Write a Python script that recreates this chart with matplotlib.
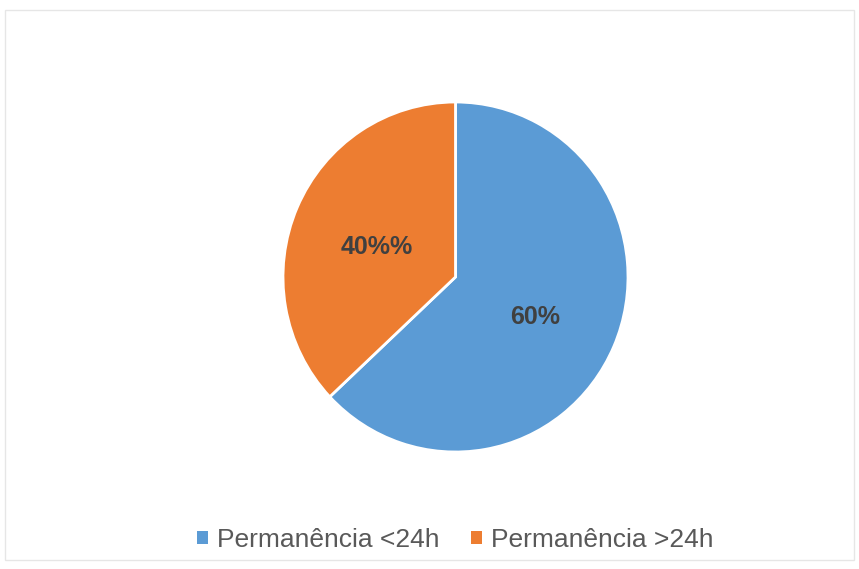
import matplotlib.pyplot as plt
from matplotlib.patches import Patch, Rectangle

# Dados do gráfico (fatias medidas na imagem; rótulos como aparecem)
categorias = ['Permanência <24h', 'Permanência >24h']
valores = [63, 37]
rotulos = ['60%', '40%%']
cores = ['#5B9BD5', '#ED7D31']

plt.rcParams['font.family'] = ['Liberation Sans', 'DejaVu Sans']

fig = plt.figure(figsize=(8.59, 5.69), dpi=100)

# moldura clara em volta
fig.patches.append(Rectangle((0.006, 0.016), 0.988, 0.966, transform=fig.transFigure,
                             fill=False, edgecolor='#e6e6e6', linewidth=1))

# a imagem original é um pouco esticada na vertical
ax = fig.add_axes([283 / 859, (569 - 452) / 569, 345 / 859, 350 / 569])

it = iter(rotulos)
wedges, textos, pcts = ax.pie(valores, colors=cores, startangle=90, counterclock=False,
                              autopct=lambda p: next(it), pctdistance=0.5,
                              wedgeprops=dict(edgecolor='white', linewidth=2),
                              textprops=dict(color='#404040', fontsize=18, fontweight='bold'))
# descer um pouco os rótulos
for t in pcts:
    x, y = t.get_position()
    t.set_position((x, y - 0.03))

ax.set_aspect('auto')
ax.set_xlim(-1, 1)
ax.set_ylim(-1, 1)

# Legenda
handles = [Patch(facecolor=c, edgecolor='none') for c in cores]
fig.legend(handles, categorias, loc='center', bbox_to_anchor=(0.53, 0.051), ncol=2,
           frameon=False, fontsize=19, labelcolor='#595959',
           handlelength=0.4, handleheight=0.4, handletextpad=0.35, columnspacing=1.2)

plt.savefig('out.png', dpi=100)
